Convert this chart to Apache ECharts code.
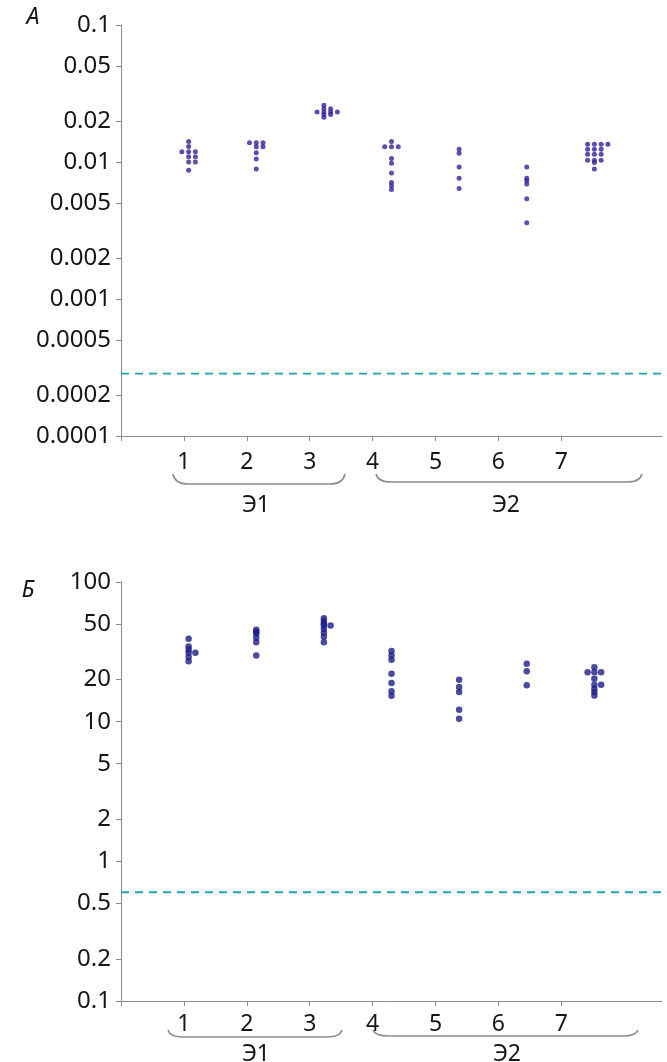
<!DOCTYPE html>
<html><head><meta charset="utf-8">
<script src="https://cdn.jsdelivr.net/npm/echarts@6/dist/echarts.min.js"></script>
<style>html,body{margin:0;padding:0;background:#fff}#c{width:667px;height:1062px}</style>
</head><body><div id="c"></div>
<script>
// ---- data ----
const categories = ['1','2','3','4','5','6','7'];
const groupLabels = ['Э1','Э2'];
const panelLabels = ['А','Б'];
const ticksA = [0.0001,0.0002,0.0005,0.001,0.002,0.005,0.01,0.02,0.05,0.1];
const ticksB = [0.1,0.2,0.5,1,2,5,10,20,50,100];
const thresholdA = 0.000285;
const thresholdB = 0.6;

const a1 = [0.0141,0.0130,0.0119,0.0119,0.0119,0.0109,0.0109,0.0100,0.0100,0.0087];
const a2 = [0.0138,0.0138,0.0138,0.0129,0.0129,0.0117,0.0105,0.0089];
const a3 = [0.026,0.0245,0.0245,0.0232,0.0232,0.0232,0.0232,0.0222,0.0222,0.0212];
const a4 = [0.0141,0.0129,0.0129,0.0129,0.0106,0.0098,0.0083,0.0071,0.0067,0.0063];
const a5 = [0.0124,0.0116,0.0092,0.0076,0.0064];
const a6 = [0.0092,0.0076,0.0073,0.0069,0.0054,0.0036];
const a7 = [0.0135,0.0135,0.0135,0.0135,0.0124,0.0124,0.0124,0.0114,0.0114,0.0114,0.0103,0.0103,0.0103,0.0099,0.0089];

const b1 = [39.3,34.6,32.7,31.2,31.2,29.0,27.1];
const b2 = [45.6,44.0,42.7,39.9,37.1,29.8];
const b3 = [55,52.5,50.5,48.9,48.9,46,43.4,40.5,37.1];
const b4 = [32.0,29.8,27.7,22.0,18.9,16.5,15.3];
const b5 = [19.95,17.7,16.3,12.15,10.5];
const b6 = [26.0,23.0,18.2];
const b7 = [24.5,22.6,22.6,22.6,20.3,18.4,18.4,17.2,16.3,15.4];

const panelA = [a1,a2,a3,a4,a5,a6,a7];
const panelB = [b1,b2,b3,b4,b5,b6,b7];

// ---- dot-plot layout: equal values spread sideways (centre, right, left, ...) ----
function dots(groups, step) {
  const out = [];
  groups.forEach((vals, gi) => {
    const counts = {};
    vals.forEach(v => {
      const k = String(v);
      const i = counts[k] = (counts[k] === undefined ? 0 : counts[k] + 1);
      const off = i === 0 ? 0 : (i % 2 === 1 ? (i + 1) / 2 : -i / 2);
      out.push([gi + 1 + off * step, v]);
    });
  });
  return out;
}

const FONT = '"Noto Sans", "Open Sans", sans-serif';
const AX = '#8a8a8a';
const TXT = '#161616';

function labelFor(ticks) {
  return function (v) {
    for (const t of ticks) if (Math.abs(Math.log10(t) - v) < 1e-6) return String(t);
    return '';
  };
}

// visible axis carrying the line, ticks and category labels
function xLabelAxis(gridIndex, margin) {
  return {
    type: 'value', gridIndex, min: 0, max: 8.6,
    axisLine: {show: true, onZero: false, lineStyle: {color: AX, width: 1}},
    axisTick: {show: true, length: 5, lineStyle: {color: AX}, customValues: [0,1,2,3,4,5,6,7]},
    axisLabel: {show: true, margin, fontSize: 23, fontFamily: FONT, color: TXT,
      customValues: [1,2,3,4,5,6,7], formatter: v => categories[Math.round(v) - 1]},
    splitLine: {show: false}
  };
}
// hidden axis along which the dot columns are placed
function xDataAxis(gridIndex) {
  return {type: 'value', gridIndex, min: 0, max: 8, show: false, splitLine: {show: false}};
}
function logAxisDef(gridIndex, ticks) {
  return {
    type: 'log', logBase: 10, gridIndex, position: 'left',
    min: ticks[0], max: ticks[ticks.length - 1],
    axisLine: {show: true, lineStyle: {color: AX, width: 1}},
    axisTick: {show: false}, axisLabel: {show: false}, splitLine: {show: false},
    minorTick: {show: false}, minorSplitLine: {show: false}
  };
}
function labelAxisDef(gridIndex, ticks) {
  const lv = ticks.map(t => Math.log10(t));
  return {
    type: 'value', gridIndex, position: 'left', offset: 0,
    min: lv[0], max: lv[lv.length - 1],
    axisLine: {show: false},
    axisTick: {show: true, length: 5, lineStyle: {color: AX}, customValues: lv},
    axisLabel: {show: true, margin: 10, fontSize: 24, fontFamily: FONT, color: TXT,
      customValues: lv, formatter: labelFor(ticks)},
    splitLine: {show: false}
  };
}

function brace(x0, x1, yTop, yBot) {
  const st = {stroke: '#8d8d8d', lineWidth: 1.6, fill: null};
  return [
    {type: 'bezierCurve', shape: {x1: x0, y1: yTop, x2: x0 + 15, y2: yBot, cpx1: x0 + 2, cpy1: yBot}, style: st, silent: true},
    {type: 'line', shape: {x1: x0 + 15, y1: yBot, x2: x1 - 15, y2: yBot}, style: st, silent: true},
    {type: 'bezierCurve', shape: {x1: x1 - 15, y1: yBot, x2: x1, y2: yTop, cpx1: x1 - 2, cpy1: yBot}, style: st, silent: true}
  ];
}
function txt(t, x, y, italic) {
  return {type: 'text', x, y, silent: true,
    style: {text: t, fill: TXT, font: (italic ? 'italic ' : '') + '23px ' + FONT,
      align: 'center', verticalAlign: 'middle', textAlign: 'center', textVerticalAlign: 'middle'}};
}

const chart = echarts.init(document.getElementById('c'), null, {renderer: 'canvas'});
chart.setOption({
  backgroundColor: '#ffffff',
  animation: false,
  grid: [
    {left: 121, right: 5, top: 25, height: 411},
    {left: 121, right: 5, top: 582, height: 419}
  ],
  xAxis: [xLabelAxis(0, 15), xDataAxis(0), xLabelAxis(1, 12), xDataAxis(1)],
  yAxis: [logAxisDef(0, ticksA), labelAxisDef(0, ticksA), logAxisDef(1, ticksB), labelAxisDef(1, ticksB)],
  series: [
    {type: 'scatter', xAxisIndex: 1, yAxisIndex: 0, data: dots(panelA, 0.1),
      symbol: 'circle', symbolSize: 5, itemStyle: {color: '#33209a'}},
    {type: 'scatter', xAxisIndex: 3, yAxisIndex: 2, data: dots(panelB, 0.1),
      symbol: 'circle', symbolSize: 6.5, itemStyle: {color: '#1d1d88'}},
    {type: 'line', xAxisIndex: 1, yAxisIndex: 0, data: [[0, thresholdA], [8, thresholdA]],
      symbol: 'none', silent: true, lineStyle: {color: '#1ea5b2', width: 1.8, type: [8, 6]}},
    {type: 'line', xAxisIndex: 3, yAxisIndex: 2, data: [[0, thresholdB], [8, thresholdB]],
      symbol: 'none', silent: true, lineStyle: {color: '#1ea5b2', width: 2, type: [8, 6]}}
  ],
  graphic: [
    txt(panelLabels[0], 33, 17, true),
    txt(panelLabels[1], 28, 590, true),
    ...brace(173, 345, 474, 484),
    ...brace(376, 642, 474, 482),
    txt(groupLabels[0], 256, 505, false),
    txt(groupLabels[1], 506, 505, false),
    ...brace(168, 342, 1030, 1037),
    ...brace(373, 638, 1030, 1036),
    txt(groupLabels[0], 256, 1054, false),
    txt(groupLabels[1], 507, 1054, false)
  ]
});
</script>
</body></html>
